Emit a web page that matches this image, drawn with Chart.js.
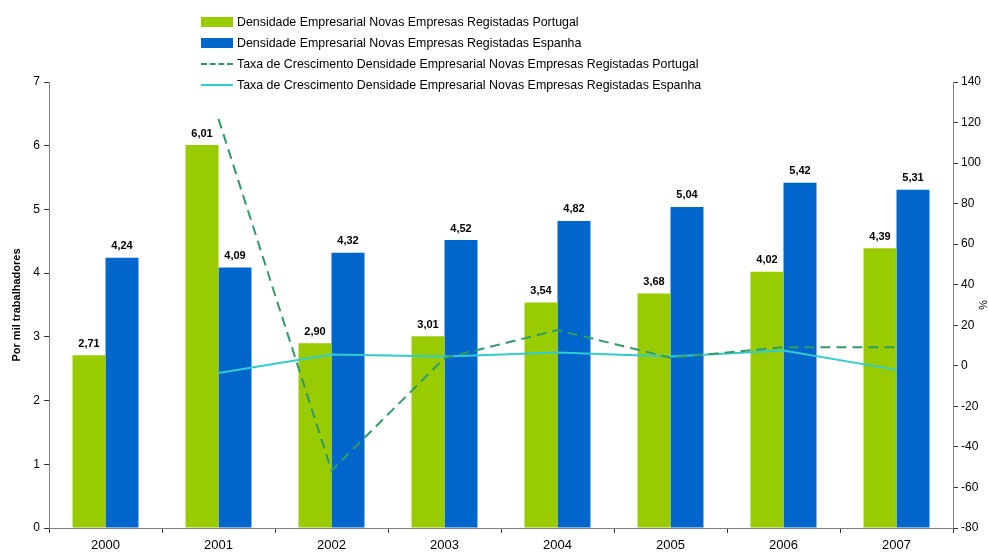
<!DOCTYPE html>
<html>
<head>
<meta charset="utf-8">
<script src="https://cdn.jsdelivr.net/npm/chart.js@4"></script>
<style>
  html, body { margin: 0; padding: 0; background: #fff; }
  #wrap { position: relative; width: 989px; height: 554px; }
  #legend { position: absolute; left: 201px; top: 11px; font-family: "Liberation Sans", Arial, sans-serif; font-size: 12.4px; color: #000; }
  .lg-row { display: flex; align-items: center; height: 21px; }
  .lg-sym { width: 32px; margin-right: 4px; }
</style>
</head>
<body>
<div id="wrap">
  <canvas id="chart" width="989" height="554"></canvas>
  <div id="legend"></div>
</div>
<script>
// ── Data ──
const years = ['2000', '2001', '2002', '2003', '2004', '2005', '2006', '2007'];
const densPT = [2.71, 6.01, 2.90, 3.01, 3.54, 3.68, 4.02, 4.39];
const densES = [4.24, 4.09, 4.32, 4.52, 4.82, 5.04, 5.42, 5.31];
const growthPT = [null, 121.8, -51.7, 3.8, 17.6, 4.0, 9.2, 9.2];
const growthES = [null, -3.5, 5.6, 4.6, 6.6, 4.6, 7.5, -2.0];

const labelPT = 'Densidade Empresarial Novas Empresas Registadas Portugal';
const labelES = 'Densidade Empresarial Novas Empresas Registadas Espanha';
const labelGPT = 'Taxa de Crescimento Densidade Empresarial Novas Empresas Registadas Portugal';
const labelGES = 'Taxa de Crescimento Densidade Empresarial Novas Empresas Registadas Espanha';

const GREEN = '#99cc00', BLUE = '#0066cc', DGREEN = '#339966', CYAN = '#33cccc';
const AXIS = '#808080';
const FONT = '"Liberation Sans", Arial, sans-serif';

// ── Legend (html) ──
const legendItems = [
  {label: labelPT, kind: 'box', color: GREEN},
  {label: labelES, kind: 'box', color: BLUE},
  {label: labelGPT, kind: 'dash', color: DGREEN},
  {label: labelGES, kind: 'line', color: CYAN},
];
const lg = document.getElementById('legend');
legendItems.forEach(it => {
  let sym;
  if (it.kind === 'box') sym = `<div class="lg-sym" style="height:10px;background:${it.color}"></div>`;
  else if (it.kind === 'dash') sym = `<div class="lg-sym" style="height:0;border-top:2px dashed ${it.color}"></div>`;
  else sym = `<div class="lg-sym" style="height:2px;background:${it.color}"></div>`;
  lg.innerHTML += `<div class="lg-row">${sym}<span>${it.label}</span></div>`;
});

// ── Bar value labels ──
const barLabels = {
  id: 'barLabels',
  afterDatasetsDraw(chart) {
    const ctx = chart.ctx;
    ctx.save();
    ctx.font = 'bold 11px ' + FONT;
    ctx.fillStyle = '#000';
    ctx.textAlign = 'center';
    ctx.textBaseline = 'bottom';
    chart.data.datasets.forEach((ds, i) => {
      if (ds.type !== 'bar') return;
      chart.getDatasetMeta(i).data.forEach((bar, j) => {
        ctx.fillText(ds.data[j].toFixed(2).replace('.', ','), bar.x, bar.y - 6);
      });
    });
    ctx.restore();
  }
};

const tickFont = {family: FONT, size: 12};

new Chart(document.getElementById('chart').getContext('2d'), {
  data: {
    labels: years,
    datasets: [
      {type: 'line', label: labelGPT, data: growthPT, yAxisID: 'y2', borderColor: DGREEN, borderWidth: 2, borderDash: [10, 6], pointRadius: 0, tension: 0, order: 0},
      {type: 'line', label: labelGES, data: growthES, yAxisID: 'y2', borderColor: CYAN, borderWidth: 2, pointRadius: 0, tension: 0, order: 0},
      {type: 'bar', label: labelPT, data: densPT, yAxisID: 'y', backgroundColor: GREEN, categoryPercentage: 0.584, barPercentage: 1.0, order: 1},
      {type: 'bar', label: labelES, data: densES, yAxisID: 'y', backgroundColor: BLUE, categoryPercentage: 0.584, barPercentage: 1.0, order: 1},
    ]
  },
  options: {
    responsive: false,
    animation: false,
    layout: {padding: {top: 82, left: 0, right: 0, bottom: 0}},
    plugins: {legend: {display: false}, tooltip: {enabled: false}},
    scales: {
      x: {
        offset: true,
        grid: {offset: true, drawOnChartArea: false, drawTicks: true, tickLength: 5, color: '#333'},
        border: {color: AXIS, width: 1},
        ticks: {color: '#000', font: {family: FONT, size: 13}, padding: 5},
        afterFit: s => { s.height = 26; }
      },
      y: {
        position: 'left', min: 0, max: 7,
        ticks: {stepSize: 1, color: '#000', font: tickFont, padding: 4},
        grid: {drawOnChartArea: false, drawTicks: true, tickLength: 5, color: '#333'},
        border: {color: AXIS, width: 1},
        title: {display: true, text: 'Por mil trabalhadores', color: '#000', font: {family: FONT, size: 11, weight: 'bold'}, padding: {top: 10, bottom: 0}},
        afterFit: s => { s.width = 49; }
      },
      y2: {
        position: 'right', min: -80, max: 140,
        ticks: {stepSize: 20, color: '#000', font: tickFont, padding: 3},
        grid: {drawOnChartArea: false, drawTicks: true, tickLength: 5, color: '#333'},
        border: {color: AXIS, width: 1},
        title: {display: true, text: '%', color: '#000', font: {family: FONT, size: 11}, padding: {top: 0, bottom: 2}},
        afterFit: s => { s.width = 36; }
      }
    }
  },
  plugins: [barLabels]
});
</script>
</body>
</html>
